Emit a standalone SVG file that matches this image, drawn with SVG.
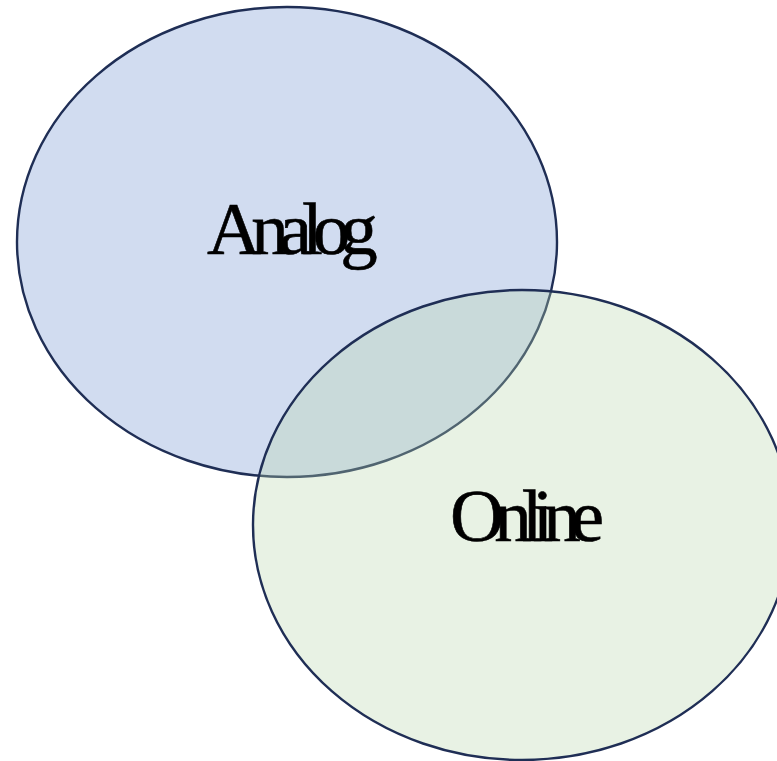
<svg xmlns="http://www.w3.org/2000/svg" width="777" height="761" viewBox="0 0 777 761">
  <style>
    .set { stroke: #1F2E55; stroke-width: 2.4; }
    .label { font-family: "Liberation Serif", "Times New Roman", serif; font-size: 75px; letter-spacing: -10px; fill: #000; stroke: #000; stroke-width: 0.6; }
  </style>
  <rect width="777" height="761" fill="#FFFFFF"/>
  <g id="analog">
    <ellipse class="set" cx="287" cy="242" rx="270" ry="235" fill="#D1DCF0"/>
  </g>
  <g id="online">
    <ellipse class="set" cx="522" cy="525" rx="269" ry="235" fill="rgb(184,214,170)" fill-opacity="0.32"/>
  </g>
  <g id="labels">
    <text class="label" x="207" y="254">Analog</text>
    <text class="label" x="450" y="541">Online</text>
  </g>
  <g id="connectors"/>
</svg>
